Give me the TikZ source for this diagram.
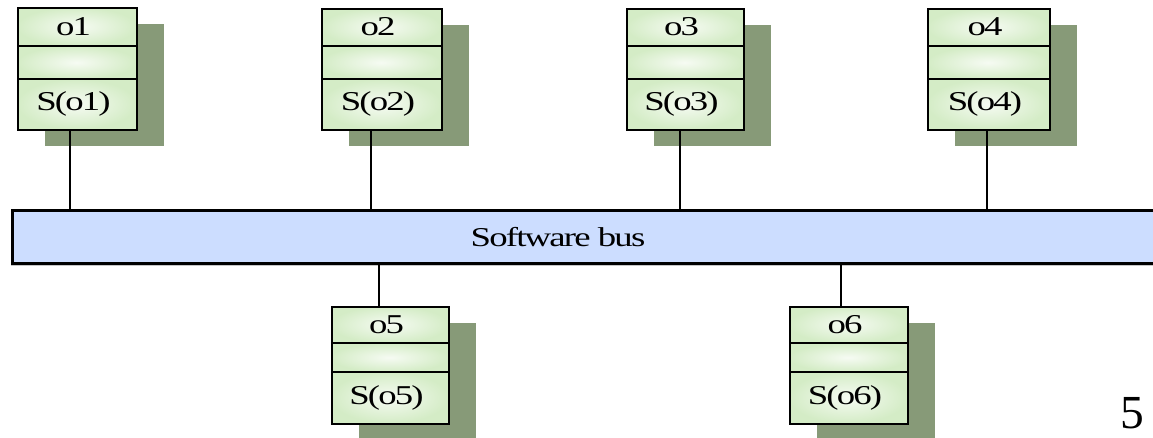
\documentclass[tikz,border=0pt]{standalone}
\usepackage{fontspec}
\usepackage{graphicx}
\setmainfont{Liberation Serif}
\definecolor{shadowgreen}{RGB}{135,154,120}
\definecolor{glowgreen}{RGB}{212,236,198}
\definecolor{glowwhite}{RGB}{246,251,243}
\definecolor{busblue}{RGB}{204,221,255}
\newcommand{\widetext}[1]{\scalebox{1.35}[1]{\addfontfeature{LetterSpace=-5}#1}}
\tikzset{
  objframe/.style={draw, line width=1.4pt, inner sep=0pt, anchor=north west},
  compart/.style={inner color=glowwhite, outer color=glowgreen},
  divider/.style={line width=1.2pt},
  lbl/.style={inner sep=0pt, font=\fontsize{15.5}{17}\selectfont},
  conn/.style={line width=1.3pt},
  busbox/.style={draw, fill=busblue, line width=1.6pt, inner sep=0pt, anchor=north west}
}
% \objbox{name}{left}{top}{width}{height}{first divider}{second divider}{name text}{state text}
\newcommand{\objbox}[9]{%
  \fill[shadowgreen] (#2+28,#3+17) rectangle ++(#4,#5);
  \shade[compart] (#2,#3) rectangle ++(#4,#6);
  \shade[compart] (#2,#3+#6) rectangle ++(#4,#7-#6);
  \shade[compart] (#2,#3+#7) rectangle ++(#4,#5-#7);
  \node[objframe, minimum width=#4*0.02cm, minimum height=#5*0.02cm] (#1) at (#2,#3) {};
  \draw[divider] (#2,#3+#6) -- ++(#4,0);
  \draw[divider] (#2,#3+#7) -- ++(#4,0);
  \node[lbl] (#1-name) at (#2+#4/2-3,#3+#6/2) {\widetext{#8}};
  \node[lbl] (#1-state) at (#2+#4/2-3,#3+#7/2+#5/2) {\widetext{#9}};
}
\begin{document}
\begin{tikzpicture}[x=0.02cm, y=-0.02cm]
  \useasboundingbox (0,0) rectangle (1153,437);
  \fill[white] (0,0) rectangle (1153,437);

  % the bus runs off the right edge
  \draw[gray!45, line width=0.8pt] (11,265) -- (1170,265);
  \node[busbox, minimum width=1160*0.02cm, minimum height=53*0.02cm] (bus) at (11,209) {};
  \node[lbl] (buslabel) at (558,237) {\widetext{Software bus}};

  % objects above the bus
  \objbox{o1}{17}{7}{119}{122}{39}{72}{o1}{S(o1)}
  \objbox{o2}{321}{8}{120}{121}{38}{71}{o2}{S(o2)}
  \objbox{o3}{626}{8}{117}{121}{38}{71}{o3}{S(o3)}
  \objbox{o4}{927}{8}{122}{121}{38}{71}{o4}{S(o4)}

  % objects below the bus
  \objbox{o5}{331}{306}{117}{117}{37}{66}{o5}{S(o5)}
  \objbox{o6}{789}{306}{118}{117}{37}{66}{o6}{S(o6)}

  % connections to the bus
  \draw[conn] (70,0 |- o1.south) -- (70,0 |- bus.north);
  \draw[conn] (371,0 |- o2.south) -- (371,0 |- bus.north);
  \draw[conn] (680,0 |- o3.south) -- (680,0 |- bus.north);
  \draw[conn] (987,0 |- o4.south) -- (987,0 |- bus.north);
  \draw[conn] (379,0 |- bus.south) -- (379,0 |- o5.north);
  \draw[conn] (841,0 |- bus.south) -- (841,0 |- o6.north);

  % page number
  \node[inner sep=0pt, font=\fontsize{27}{30}\selectfont] (pagenum) at (1132,413) {5};
\end{tikzpicture}
\end{document}
